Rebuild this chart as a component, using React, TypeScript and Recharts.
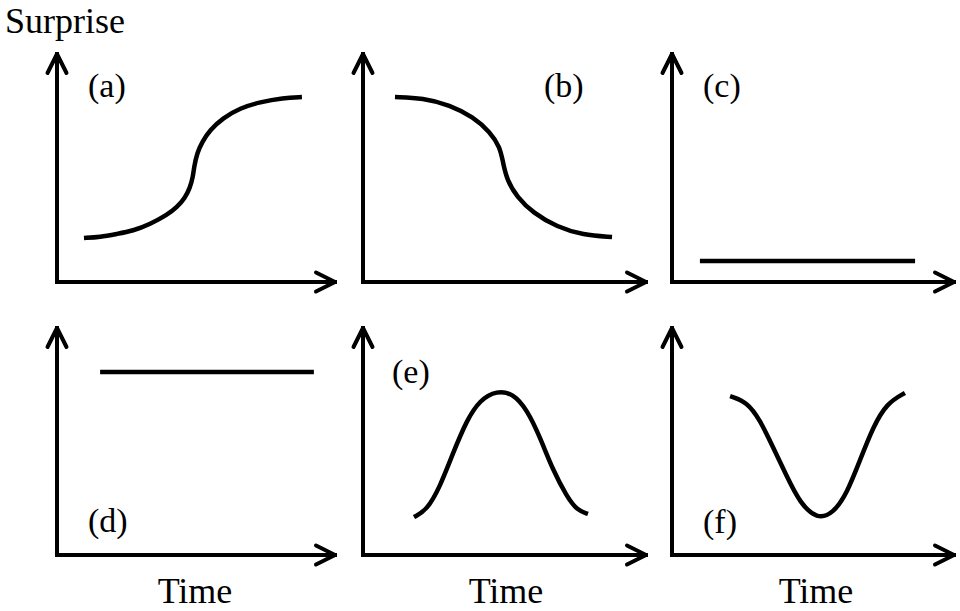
import { LineChart, Line, XAxis, YAxis } from 'recharts'

// time / surprise, both on a 0-100 scale inside each panel
const panelA = [
  { t: 9.7, s: 19.3 }, { t: 15.5, s: 19.7 }, { t: 21.6, s: 21.1 }, { t: 27.3, s: 22.4 },
  { t: 33.5, s: 25.4 }, { t: 39.6, s: 29.4 }, { t: 43.2, s: 32.9 }, { t: 46.0, s: 36.8 },
  { t: 47.8, s: 41.2 }, { t: 48.9, s: 46.1 }, { t: 49.3, s: 50.4 }, { t: 50.4, s: 56.6 },
  { t: 52.2, s: 61.4 }, { t: 55.0, s: 66.7 }, { t: 59.7, s: 71.9 }, { t: 65.8, s: 76.3 },
  { t: 73.0, s: 78.9 }, { t: 81.3, s: 80.7 }, { t: 88.1, s: 81.1 }
]

const panelB = [
  { t: 11.3, s: 81.1 }, { t: 21.2, s: 80.7 }, { t: 30.7, s: 77.6 }, { t: 38.9, s: 72.4 },
  { t: 44.9, s: 65.8 }, { t: 48.4, s: 59.2 }, { t: 49.5, s: 52.2 }, { t: 50.9, s: 44.7 },
  { t: 54.4, s: 37.3 }, { t: 60.1, s: 30.3 }, { t: 68.6, s: 24.1 }, { t: 77.7, s: 20.6 },
  { t: 88.0, s: 19.7 }
]

const panelC = [{ t: 9.9, s: 9.2 }, { t: 86.2, s: 9.2 }]

const panelD = [{ t: 15.5, s: 80.6 }, { t: 92.4, s: 80.6 }]

const panelE = [
  { t: 18.0, s: 16.7 }, { t: 22.6, s: 19.8 }, { t: 27.2, s: 30.0 }, { t: 31.8, s: 44.9 },
  { t: 36.7, s: 59.5 }, { t: 41.3, s: 68.3 }, { t: 47.3, s: 72.4 }, { t: 53.0, s: 71.2 },
  { t: 58.0, s: 63.9 }, { t: 62.5, s: 52.0 }, { t: 67.1, s: 37.4 }, { t: 72.1, s: 25.6 },
  { t: 75.6, s: 19.8 }, { t: 79.5, s: 18.1 }
]

const panelF = [
  { t: 20.6, s: 70.0 }, { t: 26.6, s: 67.4 }, { t: 31.2, s: 59.5 }, { t: 35.8, s: 47.6 },
  { t: 40.8, s: 34.4 }, { t: 45.4, s: 22.9 }, { t: 51.4, s: 15.8 }, { t: 57.1, s: 18.2 },
  { t: 62.1, s: 27.3 }, { t: 66.7, s: 41.9 }, { t: 71.3, s: 56.4 }, { t: 76.2, s: 66.9 },
  { t: 82.6, s: 71.4 }
]

const panelLabels = ['(a)', '(b)', '(c)', '(d)', '(e)', '(f)']
const yTitle = 'Surprise'
const xTitle = 'Time'

interface Box {
  axisX: number
  tipX: number
  tipY: number
  baseY: number
}

const panels: { data: { t: number; s: number }[]; box: Box }[] = [
  { data: panelA, box: { axisX: 57, tipX: 335, tipY: 54, baseY: 282 } },
  { data: panelB, box: { axisX: 363, tipX: 646, tipY: 54, baseY: 282 } },
  { data: panelC, box: { axisX: 672, tipX: 954, tipY: 54, baseY: 282 } },
  { data: panelD, box: { axisX: 57, tipX: 335, tipY: 328, baseY: 555 } },
  { data: panelE, box: { axisX: 363, tipX: 646, tipY: 328, baseY: 555 } },
  { data: panelF, box: { axisX: 672, tipX: 954, tipY: 328, baseY: 555 } }
]

const labelPos = [
  { x: 88, y: 97 }, { x: 544, y: 97 }, { x: 703, y: 97 },
  { x: 88, y: 532 }, { x: 392, y: 383 }, { x: 703, y: 533 }
]

const timeCenters = [195, 506, 816]

const M = 14

function Panel({ data, box }: { data: { t: number; s: number }[]; box: Box }) {
  const w = box.tipX - box.axisX
  const h = box.baseY - box.tipY
  return (
    <div style={{ position: 'absolute', left: box.axisX - M - 1, top: box.tipY - M }}>
      <LineChart
        width={w + 1 + 2 * M}
        height={h + 1 + 2 * M}
        data={data}
        margin={{ top: M, right: M, bottom: M, left: M }}
      >
        <XAxis
          type="number"
          dataKey="t"
          domain={[0, 100]}
          height={1}
          tick={false}
          tickLine={false}
          stroke="#000"
          axisLine={{ strokeWidth: 4, strokeLinecap: 'square', markerEnd: 'url(#arrowRight)' }}
        />
        <YAxis
          type="number"
          domain={[0, 100]}
          width={1}
          tick={false}
          tickLine={false}
          stroke="#000"
          axisLine={{ strokeWidth: 4, strokeLinecap: 'square', markerStart: 'url(#arrowUp)' }}
        />
        <Line
          type="basis"
          dataKey="s"
          stroke="#000"
          strokeWidth={4.5}
          dot={false}
          activeDot={false}
          isAnimationActive={false}
        />
      </LineChart>
    </div>
  )
}

export default function App() {
  const font = 'Liberation Serif, Times New Roman, serif'
  return (
    <div style={{ position: 'absolute', left: 0, top: 0, width: 960, height: 611, background: '#fff' }}>
      <svg width={0} height={0} style={{ position: 'absolute' }}>
        <defs>
          <marker id="arrowRight" markerUnits="userSpaceOnUse" viewBox="0 0 30 30"
            markerWidth={30} markerHeight={30} refX={24} refY={15} orient="0">
            <path d="M5,5.5 L24,15 L5,24.5" fill="none" stroke="#000" strokeWidth={4}
              strokeLinejoin="round" strokeLinecap="round" />
          </marker>
          <marker id="arrowUp" markerUnits="userSpaceOnUse" viewBox="0 0 30 30"
            markerWidth={30} markerHeight={30} refX={24} refY={15} orient="-90">
            <path d="M5,5.5 L24,15 L5,24.5" fill="none" stroke="#000" strokeWidth={4}
              strokeLinejoin="round" strokeLinecap="round" />
          </marker>
        </defs>
      </svg>

      {panels.map((p, i) => (
        <Panel key={i} data={p.data} box={p.box} />
      ))}

      <svg width={960} height={611} style={{ position: 'absolute', left: 0, top: 0, pointerEvents: 'none' }}>
        <text x={5} y={33} style={{ fontFamily: font }} fontSize={36} fill="#000">{yTitle}</text>
        {panelLabels.map((lab, i) => (
          <text key={lab} x={labelPos[i].x} y={labelPos[i].y} style={{ fontFamily: font }} fontSize={34} fill="#000">
            {lab}
          </text>
        ))}
        {timeCenters.map((cx) => (
          <text key={cx} x={cx} y={603} textAnchor="middle" style={{ fontFamily: font }} fontSize={36} fill="#000">
            {xTitle}
          </text>
        ))}
      </svg>
    </div>
  )
}
